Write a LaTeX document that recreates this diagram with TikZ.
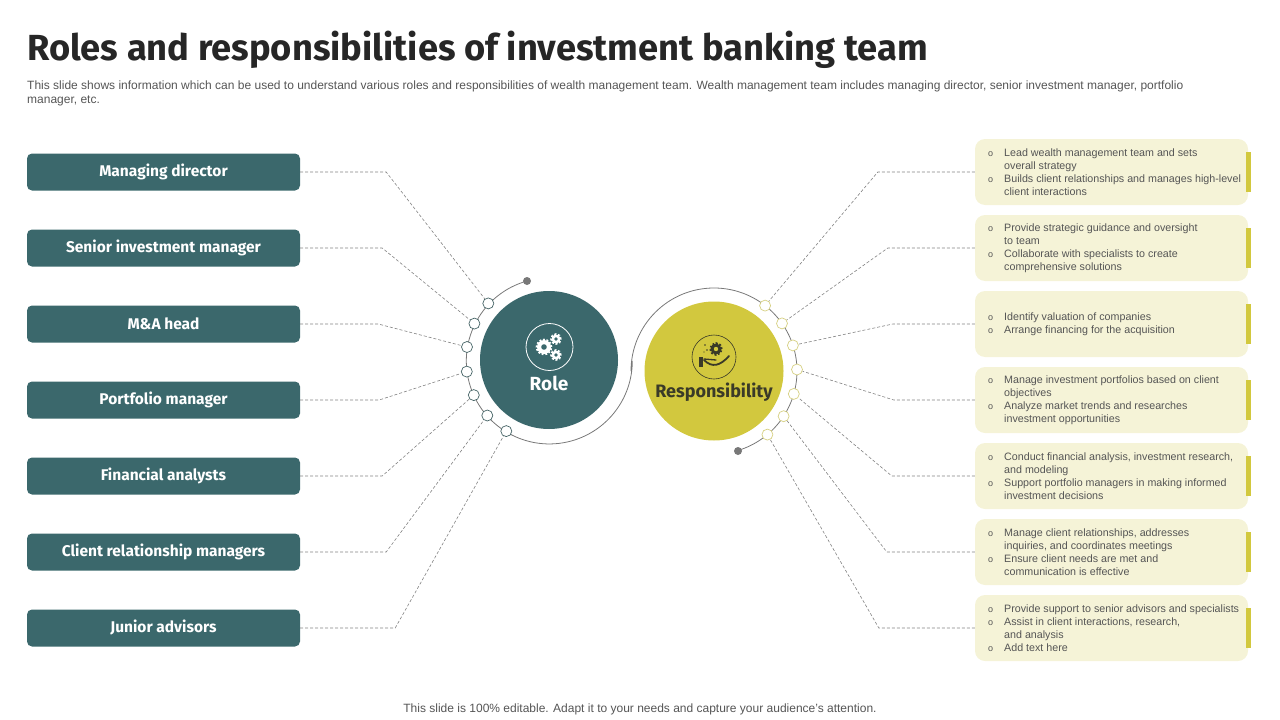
\documentclass[tikz,border=0pt]{standalone}
\usepackage{fontspec}
\setmainfont{Liberation Sans}
\newfontfamily\headfont{Fira Sans}
\definecolor{roleteal}{RGB}{59,104,108}
\definecolor{respyellow}{RGB}{210,200,62}
\definecolor{cream}{RGB}{245,243,215}
\definecolor{inkgray}{RGB}{85,85,85}
\definecolor{titleink}{RGB}{38,38,38}
\definecolor{linegray}{RGB}{130,130,130}
\definecolor{ringgray}{RGB}{120,120,120}
\definecolor{pinteal}{RGB}{70,100,102}
\definecolor{pinyellow}{RGB}{214,208,130}
\definecolor{handink}{RGB}{58,58,40}
\newcommand\itm{\makebox[16pt][l]{\fontsize{9}{9}\selectfont o}}
\newcommand\ind{\hspace*{16pt}}
% gear: x, y, radius, colour, hole colour
\newcommand\gear[5]{%
  \draw[#4,line width=2.6pt,dash pattern=on 1.7pt off 1.7pt] (#1,#2) circle[radius=#3];
  \fill[#4] (#1,#2) circle[radius=#3];
  \fill[#5] (#1,#2) circle[radius=0.4*#3];
}
\begin{document}
\begin{tikzpicture}[x=1pt,y=1pt,
    rolebox/.style={rectangle,rounded corners=5pt,fill=roleteal,minimum width=273pt,minimum height=37pt,inner sep=0pt,text=white,font=\headfont\bfseries\fontsize{15.5}{18}\selectfont},
    dutybox/.style={rectangle,rounded corners=10pt,fill=cream,minimum width=273pt,minimum height=66pt,inner sep=0pt},
    dutytext/.style={anchor=west,inner sep=0pt,align=left,text=inkgray,font=\fontsize{10.7}{13}\selectfont},
    ringpin/.style={circle,draw,fill=white,minimum size=11pt,inner sep=0pt,line width=0.7pt},
    enddot/.style={circle,fill=ringgray,minimum size=8pt,inner sep=0pt},
    leader/.style={draw=linegray,dash pattern=on 3pt off 2pt,line width=0.6pt}]
    \useasboundingbox (0,0) rectangle (1280,-720);

    % heading
    \node[anchor=base west,inner sep=0pt,text=titleink,font=\headfont\bfseries\fontsize{36.3}{42}\selectfont] (title) at (27,-60) {Roles and responsibilities of investment banking team};
    \node[anchor=north west,inner sep=0pt,align=left,text=inkgray,font=\fontsize{12}{13.5}\selectfont] (intro) at (27,-81) {This slide shows information which can be used to understand various roles and responsibilities of wealth management team. Wealth management team includes managing director, senior investment manager, portfolio\\manager, etc.};

    % roles
    \begin{scope}[every node/.style={rolebox}]
        \node (md) at (163.5,-172) {Managing director};
        \node (sim) at (163.5,-248) {Senior investment manager};
        \node (mah) at (163.5,-324) {M\&A head};
        \node (pm) at (163.5,-400) {Portfolio manager};
        \node (fa) at (163.5,-476) {Financial analysts};
        \node (crm) at (163.5,-552) {Client relationship managers};
        \node (ja) at (163.5,-628) {Junior advisors};
    \end{scope}

    % responsibilities
    \begin{scope}[every node/.style={dutybox}]
        \node (dmd) at (1111.5,-172) {};
        \node (dsim) at (1111.5,-248) {};
        \node (dmah) at (1111.5,-324) {};
        \node (dpm) at (1111.5,-400) {};
        \node (dfa) at (1111.5,-476) {};
        \node (dcrm) at (1111.5,-552) {};
        \node (dja) at (1111.5,-628) {};
    \end{scope}
    \begin{scope}[respyellow]
        \fill ([xshift=-2pt]dmd.east) ++(0,-20) rectangle ++(5,40);
        \fill ([xshift=-2pt]dsim.east) ++(0,-20) rectangle ++(5,40);
        \fill ([xshift=-2pt]dmah.east) ++(0,-20) rectangle ++(5,40);
        \fill ([xshift=-2pt]dpm.east) ++(0,-20) rectangle ++(5,40);
        \fill ([xshift=-2pt]dfa.east) ++(0,-20) rectangle ++(5,40);
        \fill ([xshift=-2pt]dcrm.east) ++(0,-20) rectangle ++(5,40);
        \fill ([xshift=-2pt]dja.east) ++(0,-20) rectangle ++(5,40);
    \end{scope}
    \begin{scope}[every node/.style={dutytext}]
        \node (tmd) at (988,-172) {\itm Lead wealth management team and sets\\\ind overall strategy\\\itm Builds client relationships and manages high-level\\\ind client interactions};
        \node (tsim) at (988,-248) {\itm Provide strategic guidance and oversight\\\ind to team\\\itm Collaborate with specialists to create\\\ind comprehensive solutions};
        \node (tmah) at (988,-324) {\itm Identify valuation of companies\\\itm Arrange financing for the acquisition};
        \node (tpm) at (988,-400) {\itm Manage investment portfolios based on client\\\ind objectives\\\itm Analyze market trends and researches\\\ind investment opportunities};
        \node (tfa) at (988,-476) {\itm Conduct financial analysis, investment research,\\\ind and modeling\\\itm Support portfolio managers in making informed\\\ind investment decisions};
        \node (tcrm) at (988,-552) {\itm Manage client relationships, addresses\\\ind inquiries, and coordinates meetings\\\itm Ensure client needs are met and\\\ind communication is effective};
        \node (tja) at (988,-628) {\itm Provide support to senior advisors and specialists\\\itm Assist in client interactions, research,\\\ind and analysis\\\itm Add text here};
    \end{scope}

    % hubs
    \node[circle,fill=roleteal,minimum size=138pt,inner sep=0pt] (role) at (549,-360) {};
    \node[circle,fill=respyellow,minimum size=139pt,inner sep=0pt] (resp) at (714,-371) {};
    \node[text=white,font=\headfont\bfseries\fontsize{19}{22}\selectfont] (rolelbl) at (549,-383) {Role};
    \node[text=handink,font=\headfont\bfseries\fontsize{18}{22}\selectfont] (resplbl) at (714,-392) {Responsibility};

    % icons
    \draw[white,line width=0.8pt] (549.5,-347) circle[radius=23.5];
    \gear{544}{-347}{7}{white}{roleteal}
    \gear{556}{-339}{4.5}{white}{roleteal}
    \gear{556}{-355}{4.5}{white}{roleteal}
    \draw[handink,line width=0.6pt] (714,-357) circle[radius=22];
    \gear{716}{-349}{5.5}{handink}{respyellow}
    \fill[handink] (705,-345) circle[radius=0.9] (707,-350) circle[radius=0.9] (704,-352) circle[radius=0.7];
    \fill[handink] (699,-357) rectangle (703,-367);
    \draw[handink,line width=1.8pt,line cap=round] (704,-360) .. controls (712,-368) and (720,-366) .. (729,-356);
    \draw[handink,line width=1.3pt,line cap=round] (704,-359) -- (716,-360);

    % ring
    \node[enddot] (e1) at (527,-281) {};
    \node[enddot] (e2) at (738,-451) {};
    \draw[ringgray,line width=0.8pt] (e1.center) arc[start angle=105.6,end angle=360,radius=83] -- (631,-371) arc[start angle=180,end angle=-73.3,radius=83];

    \begin{scope}[every node/.style={ringpin,draw=pinteal}]
        \node (a1) at (488.3,-303.4) {};
        \node (a2) at (474.4,-323.6) {};
        \node (a3) at (467.0,-347.0) {};
        \node (a4) at (466.8,-371.6) {};
        \node (a5) at (473.8,-395.1) {};
        \node (a6) at (487.3,-415.5) {};
        \node (a7) at (506.3,-431.1) {};
    \end{scope}
    \begin{scope}[every node/.style={ringpin,draw=pinyellow}]
        \node (b1) at (765.1,-305.6) {};
        \node (b2) at (782.0,-323.4) {};
        \node (b3) at (792.9,-345.4) {};
        \node (b4) at (797.0,-369.5) {};
        \node (b5) at (793.8,-393.9) {};
        \node (b6) at (783.6,-416.2) {};
        \node (b7) at (767.4,-434.6) {};
    \end{scope}

    % leaders
    \draw[leader] (md.east) -- ++(86,0) -- (a1);
    \draw[leader] (sim.east) -- ++(82,0) -- (a2);
    \draw[leader] (mah.east) -- ++(78,0) -- (a3);
    \draw[leader] (pm.east) -- ++(79,0) -- (a4);
    \draw[leader] (fa.east) -- ++(82,0) -- (a5);
    \draw[leader] (crm.east) -- ++(86,0) -- (a6);
    \draw[leader] (ja.east) -- ++(95,0) -- (a7);
    \draw[leader] (dmd.west) -- ++(-97,0) -- (b1);
    \draw[leader] (dsim.west) -- ++(-87,0) -- (b2);
    \draw[leader] (dmah.west) -- ++(-82,0) -- (b3);
    \draw[leader] (dpm.west) -- ++(-81,0) -- (b4);
    \draw[leader] (dfa.west) -- ++(-83,0) -- (b5);
    \draw[leader] (dcrm.west) -- ++(-88,0) -- (b6);
    \draw[leader] (dja.west) -- ++(-96,0) -- (b7);

    % footer
    \node[anchor=base,inner sep=0pt,text=inkgray,font=\fontsize{12}{14}\selectfont] (foot) at (640,-712) {This slide is 100\% editable. Adapt it to your needs and capture your audience's attention.};
\end{tikzpicture}
\end{document}
